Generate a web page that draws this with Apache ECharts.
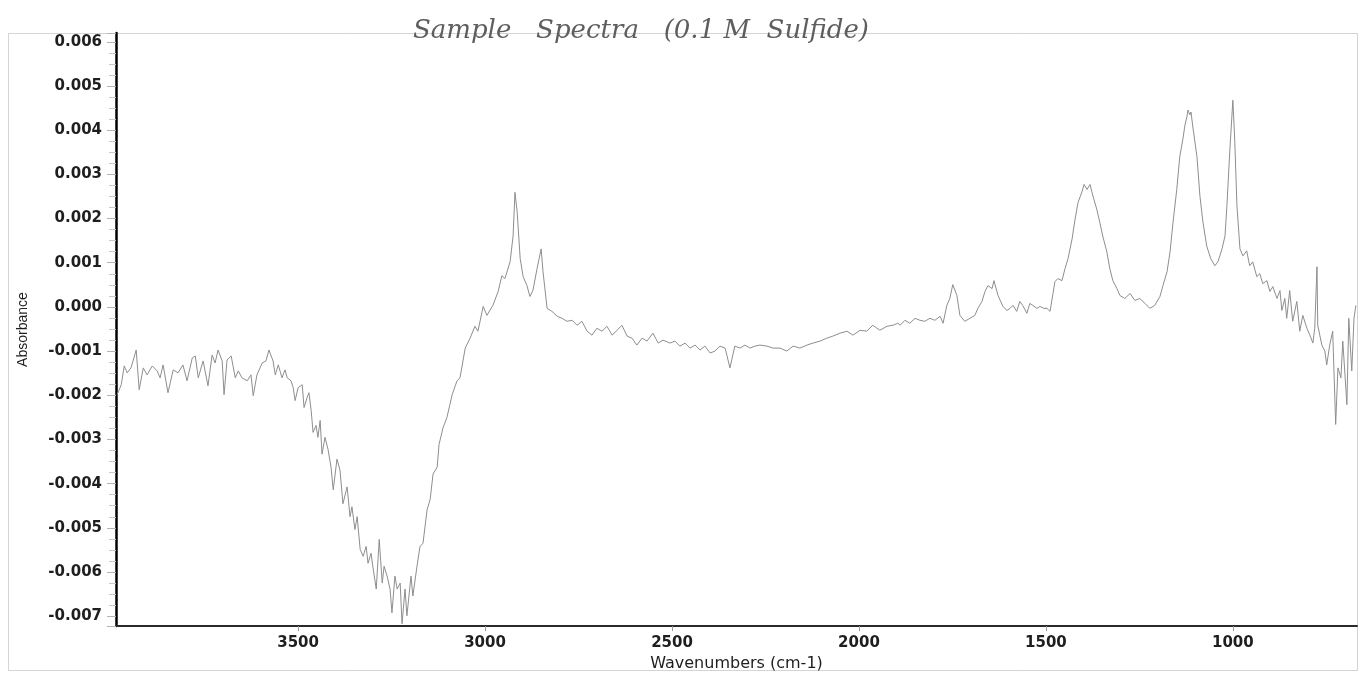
<!DOCTYPE html>
<html>
<head>
<meta charset="utf-8">
<title>Sample Spectra (0.1 M Sulfide)</title>
<script src="https://cdn.jsdelivr.net/npm/echarts@6/dist/echarts.min.js"></script>
<style>
  html, body { margin: 0; padding: 0; background: #ffffff; }
  #chart { width: 1361px; height: 677px; }
</style>
</head>
<body>
<div id="chart"></div>
<script>
// FTIR absorbance spectrum, wavenumber (cm-1) vs absorbance
const wavenumbers = [
  3984, 3973, 3965, 3957, 3947, 3933, 3925, 3914, 3904, 3890,
  3877, 3869, 3861, 3848, 3834, 3821, 3808, 3797, 3783, 3775,
  3767, 3754, 3741, 3730, 3722, 3714, 3703, 3698, 3690, 3679,
  3668, 3660, 3650, 3636, 3626, 3620, 3610, 3596, 3586, 3578,
  3567, 3561, 3553, 3543, 3535, 3529, 3519, 3513, 3508, 3500,
  3489, 3484, 3476, 3471, 3465, 3460, 3452, 3447, 3441, 3436,
  3428, 3420, 3412, 3406, 3396, 3388, 3380, 3369, 3361, 3356,
  3348, 3342, 3334, 3326, 3318, 3313, 3305, 3299, 3291, 3283,
  3275, 3270, 3262, 3254, 3249, 3241, 3235, 3227, 3222, 3214,
  3209, 3198, 3193, 3182, 3174, 3166, 3155, 3147, 3139, 3128,
  3123, 3112, 3102, 3094, 3088, 3075, 3067, 3053, 3040, 3027,
  3019, 3005, 2995, 2979, 2965, 2955, 2947, 2933, 2925, 2920,
  2914, 2906, 2898, 2888, 2880, 2872, 2861, 2850, 2845, 2834,
  2821, 2807, 2794, 2781, 2767, 2754, 2741, 2727, 2714, 2701,
  2687, 2674, 2660, 2647, 2634, 2620, 2607, 2594, 2580, 2567,
  2551, 2537, 2524, 2505, 2492, 2479, 2465, 2452, 2438, 2425,
  2412, 2398, 2385, 2372, 2358, 2345, 2332, 2318, 2305, 2291,
  2278, 2265, 2246, 2230, 2211, 2193, 2176, 2158, 2139, 2123,
  2104, 2086, 2070, 2051, 2032, 2016, 1997, 1979, 1963, 1944,
  1925, 1909, 1896, 1890, 1877, 1864, 1850, 1837, 1824, 1810,
  1797, 1783, 1775, 1765, 1757, 1749, 1738, 1730, 1717, 1703,
  1690, 1682, 1671, 1663, 1655, 1644, 1639, 1628, 1615, 1604,
  1596, 1588, 1578, 1570, 1562, 1551, 1543, 1535, 1524, 1516,
  1505, 1497, 1489, 1481, 1476, 1468, 1457, 1449, 1441, 1430,
  1422, 1414, 1404, 1398, 1390, 1382, 1374, 1364, 1356, 1348,
  1337, 1329, 1321, 1310, 1302, 1289, 1275, 1262, 1249, 1235,
  1222, 1209, 1195, 1187, 1176, 1168, 1160, 1150, 1142, 1134,
  1128, 1123, 1120, 1115, 1112, 1107, 1096, 1088, 1080, 1070,
  1059, 1048, 1040, 1029, 1021, 1016, 1008, 1000, 995, 989,
  981, 973, 963, 955, 947, 936, 928, 920, 909, 901,
  893, 882, 874, 869, 861, 856, 848, 840, 829, 821,
  813, 802, 794, 786, 781, 775, 773, 762, 754, 749,
  741, 733, 725, 719, 711, 706, 695, 690, 682, 676,
  671
];

const absorbance = [
  -0.001987, -0.001762, -0.001336, -0.001493, -0.001380, -0.000976, -0.001874, -0.001380, -0.001538, -0.001336,
  -0.001448, -0.001605, -0.001313, -0.001942, -0.001425, -0.001493, -0.001313, -0.001672, -0.001156, -0.001111,
  -0.001605, -0.001223, -0.001785, -0.001089, -0.001268, -0.000976, -0.001223, -0.001987, -0.001201, -0.001111,
  -0.001605, -0.001448, -0.001605, -0.001672, -0.001538, -0.002009, -0.001538, -0.001268, -0.001223, -0.000976,
  -0.001223, -0.001538, -0.001313, -0.001605, -0.001425, -0.001605, -0.001672, -0.001829, -0.002121, -0.001829,
  -0.001762, -0.002278, -0.002054, -0.001942, -0.002346, -0.002840, -0.002682, -0.002952, -0.002570, -0.003333,
  -0.002952, -0.003221, -0.003625, -0.004141, -0.003446, -0.003693, -0.004456, -0.004074, -0.004748, -0.004523,
  -0.005039, -0.004748, -0.005488, -0.005645, -0.005421, -0.005803, -0.005578, -0.005937, -0.006386, -0.005264,
  -0.006251, -0.005870, -0.006094, -0.006386, -0.006925, -0.006094, -0.006386, -0.006251, -0.007172, -0.006386,
  -0.006992, -0.006094, -0.006543, -0.005870, -0.005421, -0.005354, -0.004590, -0.004366, -0.003782, -0.003625,
  -0.003109, -0.002727, -0.002503, -0.002211, -0.001987, -0.001672, -0.001605, -0.000932, -0.000707, -0.000438,
  -0.000550, 0.000011, -0.000191, 0.000034, 0.000348, 0.000707, 0.000640, 0.001021, 0.001605, 0.002593,
  0.002144, 0.001089, 0.000685, 0.000483, 0.000236, 0.000370, 0.000864, 0.001313, 0.000797, -0.000034,
  -0.000101, -0.000213, -0.000258, -0.000325, -0.000303, -0.000415, -0.000325, -0.000550, -0.000640, -0.000483,
  -0.000550, -0.000438, -0.000640, -0.000528, -0.000415, -0.000662, -0.000707, -0.000864, -0.000707, -0.000774,
  -0.000595, -0.000819, -0.000752, -0.000819, -0.000774, -0.000887, -0.000819, -0.000932, -0.000864, -0.000976,
  -0.000887, -0.001044, -0.000999, -0.000887, -0.000932, -0.001380, -0.000887, -0.000932, -0.000864, -0.000932,
  -0.000887, -0.000864, -0.000887, -0.000932, -0.000932, -0.000999, -0.000887, -0.000932, -0.000864, -0.000819,
  -0.000774, -0.000707, -0.000662, -0.000595, -0.000550, -0.000640, -0.000528, -0.000550, -0.000415, -0.000528,
  -0.000438, -0.000415, -0.000370, -0.000415, -0.000303, -0.000370, -0.000258, -0.000303, -0.000325, -0.000258,
  -0.000303, -0.000213, -0.000370, 0.000034, 0.000191, 0.000505, 0.000258, -0.000191, -0.000325, -0.000258,
  -0.000191, -0.000034, 0.000123, 0.000348, 0.000483, 0.000415, 0.000595, 0.000258, 0.000011, -0.000079,
  -0.000034, 0.000034, -0.000101, 0.000123, 0.000034, -0.000146, 0.000079, 0.000034, -0.000034, 0.000011,
  -0.000034, -0.000034, -0.000101, 0.000303, 0.000572, 0.000640, 0.000595, 0.000864, 0.001089, 0.001538,
  0.001987, 0.002368, 0.002593, 0.002772, 0.002660, 0.002772, 0.002503, 0.002211, 0.001919, 0.001605,
  0.001246, 0.000864, 0.000595, 0.000415, 0.000258, 0.000191, 0.000303, 0.000146, 0.000191, 0.000079,
  -0.000034, 0.000034, 0.000236, 0.000483, 0.000797, 0.001246, 0.001919, 0.002660, 0.003401, 0.003782,
  0.004119, 0.004299, 0.004456, 0.004344, 0.004411, 0.004074, 0.003401, 0.002503, 0.001919, 0.001380,
  0.001089, 0.000932, 0.001021, 0.001313, 0.001605, 0.002278, 0.003558, 0.004680, 0.003782, 0.002278,
  0.001313, 0.001156, 0.001268, 0.000932, 0.001021, 0.000685, 0.000752, 0.000528, 0.000595, 0.000348,
  0.000460, 0.000191, 0.000370, -0.000079, 0.000191, -0.000258, 0.000370, -0.000325, 0.000123, -0.000550,
  -0.000191, -0.000483, -0.000640, -0.000819, -0.000483, 0.000909, -0.000415, -0.000864, -0.000999, -0.001313,
  -0.000864, -0.000550, -0.002660, -0.001380, -0.001605, -0.000774, -0.002211, -0.000258, -0.001448, -0.000258,
  0.000034
];

// Axis extents of the plotted window
const xRange = [668, 3987];
const yRange = [-0.007225, 0.0062];

const points = wavenumbers.map((w, i) => [w, absorbance[i]]);

const chart = echarts.init(document.getElementById('chart'), null, { renderer: 'canvas' });

const option = {
  backgroundColor: '#ffffff',
  animation: false,
  title: {
    text: 'Sample   Spectra   (0.1 M  Sulfide)',
    left: 408,
    top: 13,
    textStyle: {
      fontFamily: 'DejaVu Serif',
      fontStyle: 'italic',
      fontWeight: 'normal',
      fontSize: 26,
      color: '#5e5e5e'
    }
  },
  graphic: [
    {
      type: 'rect',
      silent: true,
      z: -1,
      shape: { x: 8.5, y: 33.5, width: 1349, height: 637 },
      style: { fill: 'none', stroke: '#d4d4d4', lineWidth: 1 }
    }
  ],
  grid: {
    left: 116,
    right: 4,
    top: 33,
    bottom: 47,
    containLabel: false
  },
  xAxis: {
    type: 'value',
    inverse: true,
    min: xRange[0],
    max: xRange[1],
    splitNumber: 7,
    name: 'Wavenumbers (cm-1)',
    nameLocation: 'middle',
    nameGap: 24,
    nameTextStyle: {
      fontFamily: 'DejaVu Sans',
      fontSize: 16,
      color: '#1e1e1e'
    },
    axisLine: { show: true, onZero: false, lineStyle: { color: '#2a2a2a', width: 2 } },
    axisTick: { show: true, length: 5, lineStyle: { color: '#9a9a9a', width: 1 } },
    axisLabel: {
      showMinLabel: false,
      showMaxLabel: false,
      margin: 10,
      fontFamily: 'DejaVu Sans',
      fontWeight: 'bold',
      fontSize: 15,
      color: '#1e1e1e',
      formatter: v => String(Math.round(v))
    },
    splitLine: { show: false }
  },
  yAxis: {
    type: 'value',
    min: yRange[0],
    max: yRange[1],
    splitNumber: 13,
    name: 'Absorbance',
    nameLocation: 'middle',
    nameRotate: 90,
    nameGap: 86,
    nameTextStyle: {
      fontFamily: 'Liberation Sans',
      fontSize: 14,
      color: '#1e1e1e'
    },
    axisLine: { show: true, onZero: false, lineStyle: { color: '#000000', width: 2.5 } },
    axisTick: { show: true, length: 9, lineStyle: { color: '#b4b4b4', width: 1 } },
    minorTick: { show: true, splitNumber: 4, length: 7, lineStyle: { color: '#c8c8c8', width: 1 } },
    axisLabel: {
      showMinLabel: false,
      showMaxLabel: false,
      margin: 14,
      fontFamily: 'DejaVu Sans',
      fontWeight: 'bold',
      fontSize: 15,
      color: '#1e1e1e',
      formatter: v => {
        const k = v * 1000;
        if (Math.abs(k - Math.round(k)) > 1e-6) return '';
        if (Math.abs(v) < 1e-9) return '0.000';
        return v.toFixed(3);
      }
    },
    splitLine: { show: false }
  },
  series: [
    {
      type: 'line',
      data: points,
      showSymbol: false,
      symbol: 'none',
      smooth: false,
      clip: true,
      lineStyle: { color: '#8e8e8e', width: 1 }
    }
  ]
};

chart.setOption(option);
</script>
</body>
</html>
